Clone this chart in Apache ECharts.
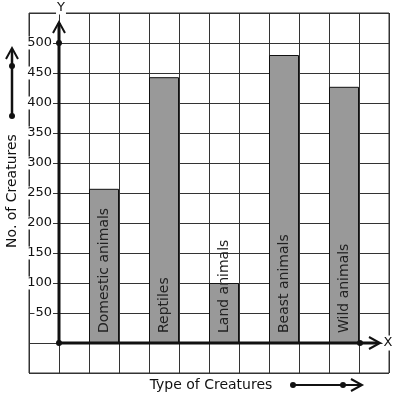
<!DOCTYPE html>
<html>
<head>
<meta charset="utf-8">
<script src="https://cdn.jsdelivr.net/npm/echarts@6/dist/echarts.min.js"></script>
<style>
  html, body { margin: 0; padding: 0; background: #fff; }
  #chart { width: 397px; height: 399px; }
</style>
</head>
<body>
<div id="chart"></div>
<script>
const categories = ['Domestic animals', 'Reptiles', 'Land animals', 'Beast animals', 'Wild animals']
const creatureCounts = [257, 443, 100, 480, 427]
const yTicks = [50, 100, 150, 200, 250, 300, 350, 400, 450, 500]

const FONT = 'DejaVu Sans'
const INK = '#111'
const GRID_LINE = '#333'

// paper grid: 12 x 12 cells of 30px
const CELL = 30
const PAPER_LEFT = 29
const PAPER_TOP = 13
const ORIGIN_X = PAPER_LEFT + CELL
const ORIGIN_Y = PAPER_TOP + 11 * CELL

const chart = echarts.init(document.getElementById('chart'), null, { renderer: 'canvas' })

function chevron(x, y, dir) {
  // open arrow head pointing up or right
  const s = 6
  const l = 11
  const pts = dir === 'up'
    ? [[x - s, y + l], [x, y], [x + s, y + l]]
    : [[x - l, y - s], [x, y], [x - l, y + s]]
  return { type: 'polyline', shape: { points: pts }, style: { stroke: INK, lineWidth: 2, fill: null }, z: 100 }
}

function dot(x, y) {
  return { type: 'circle', shape: { cx: x, cy: y, r: 3 }, style: { fill: INK }, z: 101 }
}

function line(x1, y1, x2, y2, w) {
  return { type: 'line', shape: { x1, y1, x2, y2 }, style: { stroke: INK, lineWidth: w }, z: 100 }
}

const option = {
  animation: false,
  textStyle: { fontFamily: FONT },
  grid: [
    { left: PAPER_LEFT, top: PAPER_TOP, width: 12 * CELL, height: 12 * CELL, show: true, borderColor: GRID_LINE, borderWidth: 1 },
    { left: ORIGIN_X + CELL / 2, top: PAPER_TOP + CELL / 2, width: 10 * CELL, height: ORIGIN_Y - PAPER_TOP - CELL / 2 }
  ],
  xAxis: [
    {
      gridIndex: 0, type: 'value', min: 0, max: 12, interval: 1,
      axisLine: { show: false }, axisTick: { show: false }, axisLabel: { show: false },
      splitLine: { show: true, lineStyle: { color: GRID_LINE, width: 1 } }
    },
    {
      gridIndex: 1, type: 'category', data: categories,
      axisLine: { show: false }, axisTick: { show: false }, axisLabel: { show: false },
      splitLine: { show: false }
    }
  ],
  yAxis: [
    {
      gridIndex: 0, type: 'value', min: -50, max: 550, interval: 50,
      axisLine: { show: false }, axisTick: { show: false }, axisLabel: { show: false },
      splitLine: { show: true, lineStyle: { color: GRID_LINE, width: 1 } }
    },
    {
      gridIndex: 1, type: 'value', min: 0, max: 525, interval: 50,
      offset: CELL / 2,
      axisLine: { show: false }, axisTick: { show: false },
      splitLine: { show: false },
      axisLabel: {
        margin: 6,
        color: INK,
        fontSize: 13,
        fontFamily: FONT,
        backgroundColor: '#fff',
        padding: [0, 1],
        formatter: (v) => (yTicks.includes(v) ? String(v) : '')
      }
    }
  ],
  series: [
    {
      type: 'bar',
      xAxisIndex: 1,
      yAxisIndex: 1,
      data: creatureCounts,
      barWidth: CELL,
      itemStyle: { color: '#999999', borderColor: INK, borderWidth: 1 },
      label: {
        show: true,
        formatter: '{b}',
        position: 'insideBottom',
        distance: 10,
        rotate: 90,
        align: 'left',
        verticalAlign: 'middle',
        color: '#222',
        fontSize: 14,
        fontFamily: FONT
      },
      z: 5
    }
  ],
  graphic: [
    // axes
    line(ORIGIN_X, ORIGIN_Y, ORIGIN_X, 23, 3),
    chevron(ORIGIN_X, 22, 'up'),
    line(ORIGIN_X, ORIGIN_Y, 378, ORIGIN_Y, 3),
    chevron(380, ORIGIN_Y, 'right'),
    dot(ORIGIN_X, ORIGIN_Y),
    dot(ORIGIN_X, PAPER_TOP + CELL),
    dot(360, ORIGIN_Y),
    {
      type: 'text', x: ORIGIN_X + 2, y: PAPER_TOP - 5, z: 102,
      style: { text: 'Y', font: '13px ' + FONT, fill: INK, align: 'center', verticalAlign: 'middle', backgroundColor: '#fff', padding: [0, 1] }
    },
    {
      type: 'text', x: 388, y: ORIGIN_Y, z: 102,
      style: { text: 'X', font: '13px ' + FONT, fill: INK, align: 'center', verticalAlign: 'middle', backgroundColor: '#fff', padding: [1, 1] }
    },
    // axis titles
    {
      type: 'text', x: 12, y: 191, rotation: Math.PI / 2, z: 102,
      style: { text: 'No. of Creatures', font: '14px ' + FONT, fill: INK, align: 'center', verticalAlign: 'middle' }
    },
    {
      type: 'text', x: 211, y: 385, z: 102,
      style: { text: 'Type of Creatures', font: '14px ' + FONT, fill: INK, align: 'center', verticalAlign: 'middle' }
    },
    // side arrows
    line(12, 116, 12, 50, 2.5),
    chevron(12, 48, 'up'),
    dot(12, 66),
    dot(12, 116),
    line(293, 385, 361, 385, 2),
    chevron(362, 385, 'right'),
    dot(293, 385),
    dot(343, 385)
  ]
}

chart.setOption(option)
</script>
</body>
</html>
